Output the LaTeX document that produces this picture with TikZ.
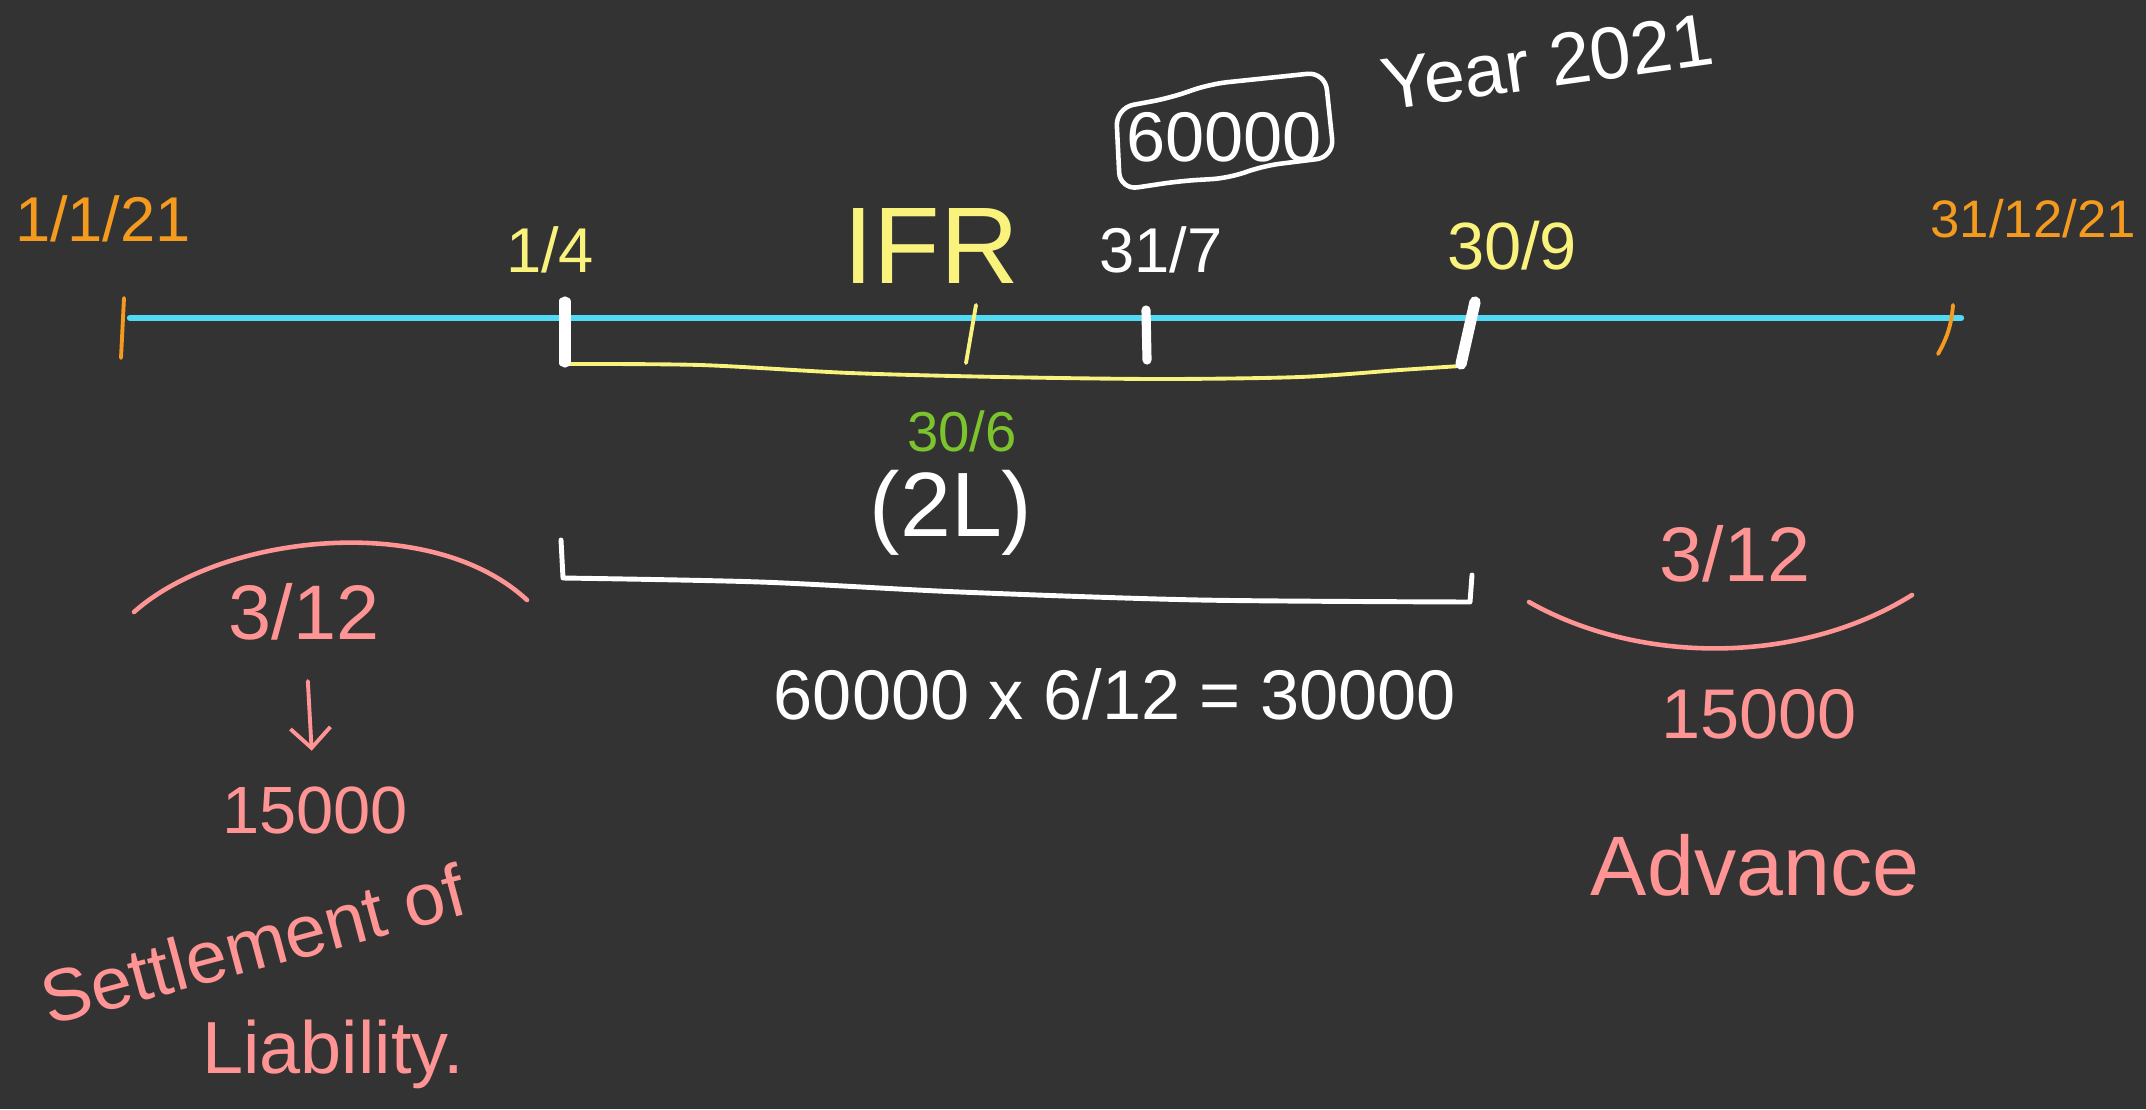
\documentclass[tikz,border=0pt]{standalone}
\usepackage{fontspec}
\setmainfont{Liberation Sans}
\usetikzlibrary{arrows.meta, positioning, calc}
\definecolor{BoardBg}{HTML}{333333}
\definecolor{LineBlue}{HTML}{52D9F6}
\definecolor{InkOrange}{HTML}{F49B1F}
\definecolor{InkYellow}{HTML}{F9F27C}
\definecolor{InkGreen}{HTML}{7CC42E}
\definecolor{InkPink}{HTML}{FF9494}
\newcommand{\inksize}[1]{\fontsize{#1}{#1}\selectfont}

\begin{document}
\begin{tikzpicture}[
    x=0.01cm, y=-0.01cm,
    ink/.style={line width=1.1pt, line cap=round, line join=round},
    chalk/.style={line width=3.2pt, line cap=round, white},
    lbl/.style={inner sep=0pt, align=center},
  ]
  \fill[BoardBg] (0,0) rectangle (2146,1109);
  \useasboundingbox (0,0) rectangle (2146,1109);

  % the year on one line
  \coordinate (tl0) at (130,318);
  \coordinate (tl1) at (1961,318);
  \draw[line width=1.8pt, LineBlue, line cap=round] (tl0) -- (tl1);
  \draw[ink, InkOrange] (124,298) -- (121,358);
  \draw[ink, InkOrange] (1953,305) to[bend left=12] (1938,354);

  \foreach \nm/\px/\py/\txt/\col/\sz in {%
     dA/103/219/{1/1/21}/InkOrange/18,
     dB/550/250/{1/4}/InkYellow/18,
     dC/1161/250/{31/7}/white/18,
     dD/1512/246/{30/9}/InkYellow/19,
     dE/2033/219/{31/12/21}/InkOrange/15%
  }{
    \node[lbl, text=\col, font=\inksize{\sz}] (\nm) at (\px,\py) {\txt};
  }
  \node[lbl, text=InkYellow, font=\inksize{31}] (ifr) at (931,246) {IFR};

  % yellow period 1/4 - 30/9
  \draw[ink, InkYellow] (561,300) -- (561,364) -- plot[smooth] coordinates
        {(561,364) (700,365) (850,373) (1000,377) (1160,379) (1300,377) (1400,370) (1460,366)}
        -- (1473,318);
  \draw[ink, InkYellow] (976,305) -- (966,363);
  \draw[chalk] (565,302) -- (565,362);
  \draw[chalk, line width=2.6pt] (1146,310) -- (1147,360);
  \draw[chalk] (1475,302) -- (1461,364);

  \node[lbl, text=InkGreen, font=\inksize{16}] (jun) at (962,431) {30/6};
  \node[lbl, text=white, font=\inksize{26}] (lakh) at (951,513) {(2L)};

  % amount box and year
  \draw[ink, white, line width=1.3pt, rounded corners=5pt]
        (1116,108) -- (1170,98) -- (1210,84) -- (1325,72) -- (1334,157)
        -- (1262,166) -- (1230,178) -- (1180,181) -- (1120,190) -- cycle;
  \node[lbl, text=white, font=\inksize{20}] (box60) at (1224,137) {60000};
  \node[lbl, text=white, font=\inksize{21}, rotate=8] (yr) at (1547,62) {Year 2021};

  % white bracket with working
  \draw[ink, white, line width=1.4pt] (561,540) -- (563,578) -- plot[smooth] coordinates
        {(563,578) (760,582) (960,592) (1200,600) (1470,602)} -- (1472,575);
  \node[lbl, text=white, font=\inksize{20}] (calc) at (1115,694) {60000 x 6/12 = 30000};

  % left part
  \draw[ink, InkPink, line width=1.3pt] (134,612) .. controls (220,535) and (430,510) .. (527,600);
  \node[lbl, text=InkPink, font=\inksize{22}] (lfrac) at (304,612) {3/12};
  \node[lbl, text=InkPink, font=\inksize{19}] (lamt) at (315,810) {15000};
  \draw[ink, InkPink, -{Straight Barb[length=2mm]}, shorten <=0.4cm, shorten >=0.35cm] (lfrac) -- (lamt);
  \node[lbl, text=InkPink, font=\inksize{21}, rotate=15] (settle) at (253,944) {Settlement of};
  \node[lbl, text=InkPink, font=\inksize{21}] (liab) at (333,1054) {Liability.};

  % right part
  \draw[ink, InkPink, line width=1.3pt] (1529,602) .. controls (1640,665) and (1800,665) .. (1912,595);
  \node[lbl, text=InkPink, font=\inksize{22}] (rfrac) at (1735,554) {3/12};
  \node[lbl, text=InkPink, font=\inksize{20}] (ramt) at (1759,714) {15000};
  \node[lbl, text=InkPink, font=\inksize{24}] (adv) at (1755,865) {Advance};
\end{tikzpicture}
\end{document}
